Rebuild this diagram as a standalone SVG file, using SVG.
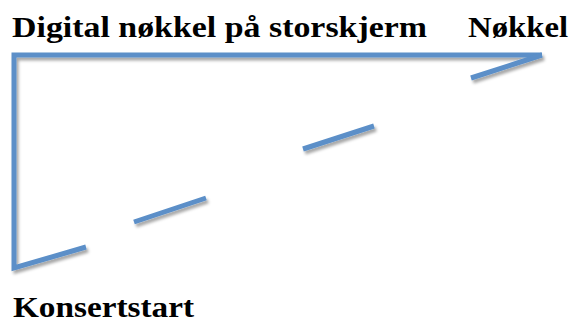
<svg xmlns="http://www.w3.org/2000/svg" width="574" height="322" viewBox="0 0 574 322">
<defs>
<style>
.lbl{font-family:"Liberation Serif","Times New Roman",serif;font-weight:bold;font-size:28.5px;fill:#000}
.ln{fill:none;stroke:#5B8FC8;stroke-width:5;stroke-linejoin:miter;stroke-linecap:butt}
</style>
<filter id="sh" x="-10%" y="-10%" width="120%" height="130%">
<feDropShadow dx="2" dy="3" stdDeviation="1.6" flood-color="#000" flood-opacity="0.35"/>
</filter>
</defs>
<rect width="574" height="322" fill="#fff"/>
<g id="connectors" filter="url(#sh)">
<path class="ln" d="M542,55 L14,55 L14,268 L86,247"/>
<path class="ln" d="M134,222 L206,198 M303,149 L374,126 M471,78 L542,55"/>
</g>
<g id="node-digital"><text class="lbl" x="12" y="37" textLength="415" lengthAdjust="spacingAndGlyphs">Digital nøkkel på storskjerm</text></g>
<g id="node-nokkel"><text class="lbl" x="468" y="37" textLength="100" lengthAdjust="spacingAndGlyphs">Nøkkel</text></g>
<g id="node-konsertstart"><text class="lbl" x="13" y="317" textLength="181" lengthAdjust="spacingAndGlyphs">Konsertstart</text></g>
</svg>
